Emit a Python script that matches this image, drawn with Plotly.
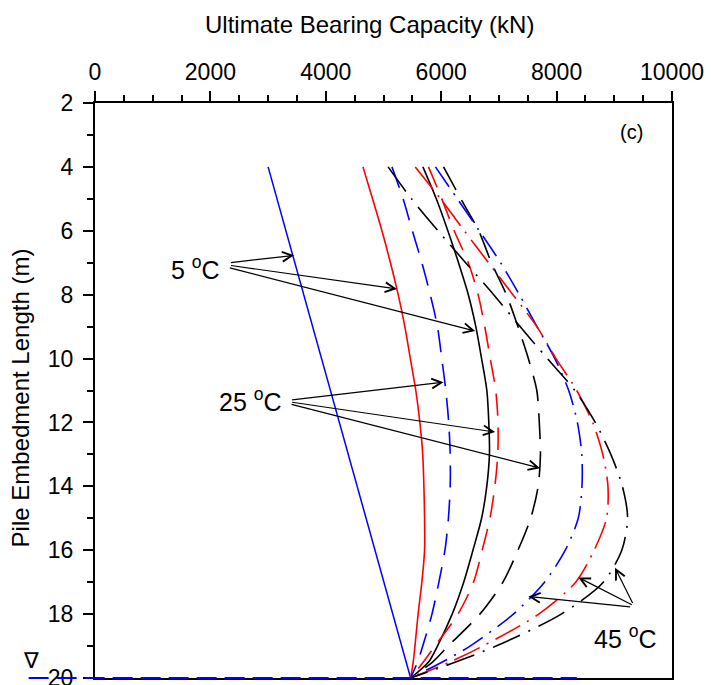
import plotly.graph_objects as go

# ---------------- data ----------------
depth = [4, 5, 6, 7, 8, 9, 10, 11, 12, 13, 14, 15, 16, 17, 18, 19, 19.5, 20]

blue_solid_depth = [4, 20]
blue_solid = [3000, 5470]
red_solid = [4644, 4810, 4973, 5120, 5255, 5370, 5465, 5560, 5630, 5680, 5700, 5712, 5712, 5665, 5600, 5545, 5515, 5470]
black_solid = [5683, 5915, 6115, 6300, 6470, 6600, 6700, 6791, 6825, 6836, 6790, 6700, 6550, 6390, 6190, 5935, 5780, 5470]

blue_dash = [5146, 5340, 5500, 5665, 5810, 5935, 6010, 6080, 6130, 6156, 6156, 6125, 6065, 5960, 5840, 5680, 5590, 5470]
red_dash = [5780, 6010, 6225, 6470, 6640, 6755, 6850, 6945, 6985, 6980, 6930, 6845, 6710, 6560, 6290, 5890, 5690, 5470]
black_dash = [6040, 6340, 6650, 6870, 7130, 7330, 7510, 7657, 7700, 7720, 7680, 7550, 7330, 7070, 6670, 6120, 5850, 5470]

blue_dashdot = [5900, 6280, 6660, 7030, 7355, 7660, 7970, 8210, 8360, 8436, 8440, 8375, 8150, 7790, 7250, 6500, 6020, 5470]
red_dashdot = [5550, 5990, 6400, 6820, 7242, 7658, 7990, 8349, 8625, 8800, 8890, 8865, 8650, 8330, 7690, 6720, 6150, 5470]
black_dashdot = [5080, 5485, 5945, 6423, 6909, 7367, 7840, 8318, 8670, 8940, 9140, 9230, 9130, 8810, 8080, 6950, 6250, 5470]

x_ticks = [0, 2000, 4000, 6000, 8000, 10000]
y_ticks = [2, 4, 6, 8, 10, 12, 14, 16, 18, 20]

# annotation anchors (data coords): label centre, arrow tails, arrow heads
lab_5 = (1740, 7.17)
tails_5 = [(2330, 7.0), (2330, 7.08), (2310, 7.15)]
heads_5 = [(3450, 6.77), (5233, 7.82), (6589, 9.14)]

lab_25 = (2693, 11.31)
tails_25 = [(3390, 11.3), (3390, 11.36), (3380, 11.42)]
heads_25 = [(6040, 10.74), (6935, 12.3), (7714, 13.43)]

lab_45 = (9186, 18.73)
tails_45 = [(9300, 17.78), (9330, 17.73), (9330, 17.70)]
heads_45 = [(7512, 17.45), (8377, 16.85), (9013, 16.55)]

water_table_x = [-1150, 8350]   # extends left of the axis
water_table_depth = 20

FONT = "Liberation Sans, Arial, sans-serif"
BLUE = "#0000ff"
RED = "#ff0000"
BLACK = "#000000"

fig = go.Figure()

def add(xv, yv, color, dash, width=1.6):
    fig.add_trace(go.Scatter(
        x=xv, y=yv, mode="lines",
        line=dict(color=color, width=width, dash=dash, shape="spline", smoothing=0.8),
        showlegend=False, hoverinfo="skip"))

DASH_B = "22px,12px"
DASH_R = "22px,12px"
DASH_K = "26px,12px"
DD_B = "24px,8px,2px,8px"
DD_R = "28px,8px,2px,8px"
DD_K = "30px,9px,2px,9px"

add(blue_solid, blue_solid_depth, BLUE, "solid", 1.5)
add(red_solid, depth, RED, "solid")
add(black_solid, depth, BLACK, "solid")
add(blue_dash, depth, BLUE, DASH_B)
add(red_dash, depth, RED, DASH_R)
add(black_dash, depth, BLACK, DASH_K)
add(blue_dashdot, depth, BLUE, DD_B)
add(red_dashdot, depth, RED, DD_R)
add(black_dashdot, depth, BLACK, DD_K)

annotations = []

def arrows(tails, heads):
    for (tx, ty), (hx, hy) in zip(tails, heads):
        annotations.append(dict(
            x=hx, y=hy, xref="x", yref="y", ax=tx, ay=ty, axref="x", ayref="y",
            text="", showarrow=True, arrowhead=5, arrowsize=1.6, arrowwidth=1.2,
            arrowcolor=BLACK, standoff=0, startstandoff=0))

arrows(tails_5, heads_5)
arrows(tails_25, heads_25)
arrows(tails_45, heads_45)

for (lx, ly), txt in [(lab_5, "5 <sup>o</sup>C"), (lab_25, "25 <sup>o</sup>C"), (lab_45, "45 <sup>o</sup>C")]:
    annotations.append(dict(x=lx, y=ly, xref="x", yref="y", text=txt, showarrow=False,
                            font=dict(family=FONT, size=25, color=BLACK),
                            xanchor="center", yanchor="middle"))

annotations.append(dict(x=9300, y=2.9, xref="x", yref="y", text="(c)", showarrow=False,
                        font=dict(family=FONT, size=20, color=BLACK)))

# axis titles
annotations.append(dict(x=0.475, y=1.136, xref="paper", yref="paper",
                        text="Ultimate Bearing Capacity (kN)", showarrow=False,
                        font=dict(family=FONT, size=24, color=BLACK),
                        xanchor="center", yanchor="middle"))
annotations.append(dict(x=-0.13, y=0.488, xref="paper", yref="paper",
                        text="Pile Embedment Length (m)", showarrow=False, textangle=-90,
                        font=dict(family=FONT, size=24, color=BLACK),
                        xanchor="center", yanchor="middle"))

# water table marker
annotations.append(dict(x=water_table_x[0] / 10000 + 0.004, y=0.03, xref="paper", yref="paper",
                        text="∇", showarrow=False,
                        font=dict(family="DejaVu Sans", size=22, color=BLACK),
                        xanchor="center", yanchor="middle"))

shapes = [dict(type="line", xref="paper", yref="paper",
               x0=water_table_x[0] / 10000, x1=water_table_x[1] / 10000,
               y0=0, y1=0, line=dict(color=BLUE, width=2, dash="20px,8px"),
               layer="above")]

fig.update_layout(
    width=711, height=685,
    margin=dict(l=95, r=39, t=103, b=7, autoexpand=False),
    paper_bgcolor="white", plot_bgcolor="white",
    font=dict(family=FONT, size=23, color=BLACK),
    showlegend=False,
    annotations=annotations,
    shapes=shapes,
)

fig.update_xaxes(
    side="top", range=[0, 10000], tickvals=x_ticks, ticktext=[str(v) for v in x_ticks],
    showgrid=False, zeroline=False, showline=True, linewidth=2, linecolor=BLACK, mirror=True,
    ticks="outside", ticklen=10, tickwidth=1.5, tickcolor=BLACK, automargin=False,
    tickfont=dict(family=FONT, size=23, color=BLACK), ticklabelstandoff=2,
    ticklabeloverflow="allow",
    minor=dict(dtick=500, tick0=0, ticks="outside", ticklen=6, tickwidth=1.5, tickcolor=BLACK, showgrid=False),
)
fig.update_yaxes(
    range=[20, 2], tickvals=y_ticks, ticktext=[str(v) for v in y_ticks],
    showgrid=False, zeroline=False, showline=True, linewidth=2, linecolor=BLACK, mirror=True,
    ticks="outside", ticklen=10, tickwidth=1.5, tickcolor=BLACK, automargin=False,
    tickfont=dict(family=FONT, size=23, color=BLACK), ticklabelstandoff=5,
    ticklabeloverflow="allow",
    minor=dict(dtick=1, tick0=0, ticks="outside", ticklen=6, tickwidth=1.5, tickcolor=BLACK, showgrid=False),
)

fig.write_html("out.html", config={"displayModeBar": False},
               post_script="document.body.style.margin='0';document.body.style.overflow='hidden';")
